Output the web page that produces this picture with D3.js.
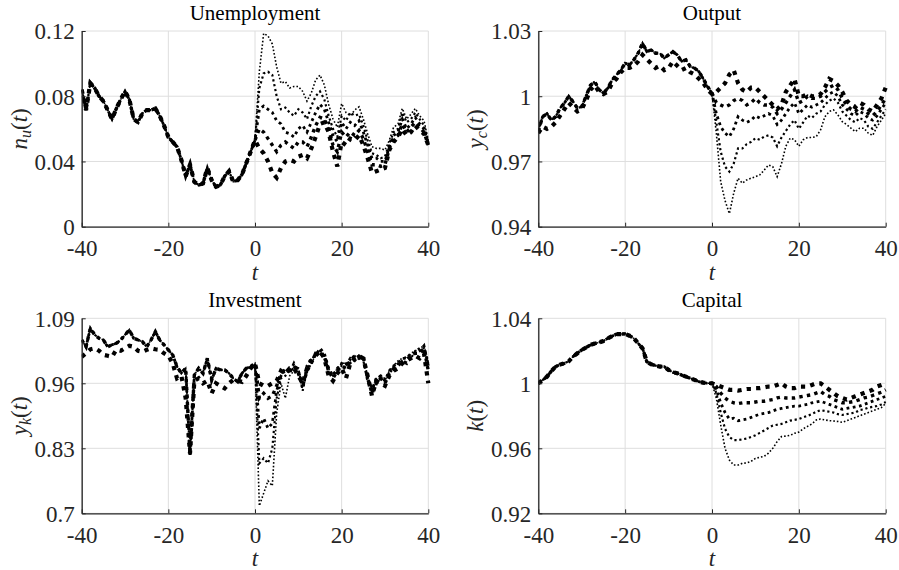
<!DOCTYPE html>
<html><head><meta charset="utf-8">
<script src="https://cdn.jsdelivr.net/npm/d3@7"></script>
<style>
body{margin:0;background:#fff;}
svg{display:block;}
</style></head>
<body><svg id="c" width="899" height="570"></svg>
<script>
// time axis
const tPre = d3.range(-40, 1);   // -40..0
const tPost = d3.range(1, 41);   // 1..40
const xTicks = [-40, -20, 0, 20, 40];
const xTickLabels = ["-40", "-20", "0", "20", "40"];

// ---------- Unemployment ----------
const uHist = [0.084,0.0715,0.088,0.085,0.080,0.077,0.0715,0.066,0.0725,0.078,0.083,0.078,0.066,0.064,0.0695,0.0715,0.0715,0.0725,0.068,0.062,0.055,0.052,0.049,0.041,0.031,0.038,0.0275,0.0255,0.0265,0.036,0.0285,0.0245,0.0255,0.031,0.034,0.0275,0.0285,0.032,0.039,0.046,0.053];
const uS1 = [0.048,0.045,0.040,0.033,0.030,0.036,0.040,0.041,0.040,0.043,0.044,0.042,0.048,0.055,0.063,0.064,0.058,0.046,0.037,0.052,0.050,0.054,0.053,0.056,0.050,0.042,0.033,0.034,0.035,0.036,0.047,0.052,0.055,0.060,0.056,0.058,0.062,0.059,0.057,0.050];
const uS2 = [0.060,0.058,0.054,0.050,0.046,0.050,0.052,0.050,0.048,0.052,0.052,0.049,0.055,0.062,0.067,0.066,0.060,0.050,0.046,0.058,0.055,0.058,0.056,0.059,0.054,0.046,0.038,0.038,0.037,0.038,0.048,0.054,0.056,0.063,0.058,0.061,0.064,0.061,0.058,0.050];
const uS3 = [0.072,0.074,0.072,0.070,0.065,0.063,0.058,0.057,0.055,0.060,0.062,0.058,0.064,0.070,0.075,0.072,0.064,0.056,0.052,0.064,0.060,0.064,0.062,0.065,0.058,0.050,0.042,0.042,0.040,0.040,0.049,0.056,0.058,0.066,0.060,0.063,0.067,0.063,0.060,0.051];
const uS4 = [0.085,0.094,0.095,0.093,0.080,0.072,0.073,0.070,0.068,0.072,0.070,0.066,0.074,0.080,0.083,0.078,0.068,0.060,0.055,0.068,0.065,0.070,0.068,0.069,0.062,0.053,0.045,0.044,0.042,0.043,0.051,0.058,0.060,0.070,0.064,0.066,0.070,0.066,0.062,0.052];
const uS5 = [0.095,0.1185,0.117,0.112,0.098,0.088,0.089,0.085,0.086,0.086,0.083,0.077,0.082,0.090,0.093,0.087,0.075,0.066,0.061,0.0755,0.070,0.068,0.0715,0.0735,0.066,0.057,0.049,0.048,0.048,0.047,0.053,0.061,0.063,0.0725,0.066,0.069,0.0725,0.068,0.065,0.053];
const uTicks = [0, 0.04, 0.08, 0.12];
const uTickLabels = ["0", "0.04", "0.08", "0.12"];

// ---------- Output ----------
const yHist = [0.984,0.9906,0.992,0.989,0.9906,0.9945,0.9968,1.000,0.9975,0.9945,0.9952,1.000,1.005,1.0067,1.003,1.0014,1.0037,1.0075,1.0098,1.012,1.0152,1.0144,1.0167,1.0198,1.0244,1.0205,1.0213,1.0198,1.0198,1.0175,1.019,1.0205,1.019,1.016,1.0167,1.0136,1.0129,1.0113,1.008,1.0044,1.0014];
const yHistAlt = [0.983,0.986,0.985,0.986,0.988,0.991,0.994,0.997,0.995,0.993,0.994,0.998,1.003,1.005,1.002,1.001,1.002,1.006,1.008,1.011,1.013,1.013,1.014,1.016,1.019,1.017,1.015,1.013,1.014,1.012,1.013,1.016,1.014,1.012,1.013,1.011,1.010,1.008,1.006,1.003,1.001];
const yS1 = [1.002,1.004,1.006,1.010,1.012,1.006,1.003,1.002,1.004,1.004,1.002,1.000,0.998,0.996,0.994,0.996,1.002,1.005,1.008,1.000,1.000,1.001,1.000,1.000,1.001,1.004,1.008,1.007,1.005,1.002,0.998,0.996,0.995,0.997,0.996,0.994,0.993,0.996,0.999,1.004];
const yS2 = [0.997,0.996,0.995,0.996,0.998,0.999,0.998,0.996,0.997,0.999,0.997,0.996,0.996,0.995,0.992,0.994,0.997,1.000,1.003,0.997,0.998,1.000,0.999,0.999,1.000,1.002,1.004,1.005,1.003,0.999,0.996,0.994,0.993,0.995,0.994,0.992,0.991,0.993,0.996,0.999];
const yS3 = [0.992,0.986,0.983,0.9814,0.985,0.9906,0.989,0.988,0.989,0.991,0.990,0.991,0.992,0.991,0.987,0.989,0.992,0.995,0.997,0.992,0.994,0.996,0.995,0.996,0.997,0.999,1.001,1.002,1.000,0.996,0.994,0.992,0.991,0.993,0.992,0.990,0.989,0.991,0.994,0.997];
const yS4 = [0.988,0.9745,0.9676,0.9653,0.969,0.976,0.976,0.978,0.979,0.9807,0.980,0.9814,0.982,0.981,0.977,0.981,0.984,0.987,0.989,0.985,0.988,0.991,0.990,0.992,0.993,0.996,0.998,0.999,0.997,0.993,0.991,0.989,0.988,0.990,0.989,0.986,0.985,0.988,0.991,0.994];
const yS5 = [0.983,0.9607,0.952,0.946,0.9554,0.9623,0.960,0.9615,0.9623,0.963,0.9638,0.966,0.9684,0.9676,0.963,0.969,0.977,0.9807,0.980,0.977,0.980,0.981,0.981,0.9814,0.9845,0.9906,0.993,0.9937,0.9914,0.9883,0.987,0.9853,0.9837,0.9853,0.9853,0.983,0.982,0.986,0.989,0.992];
const yTicks = [0.94, 0.97, 1, 1.03];
const yTickLabels = ["0.94", "0.97", "1", "1.03"];

// ---------- Investment ----------
const iHist = [1.0467,1.033,1.07,1.057,1.05,1.0467,1.033,1.037,1.04,1.0467,1.057,1.0667,1.05,1.0467,1.0433,1.033,1.0467,1.0633,1.0467,1.037,1.0267,1.0167,0.9933,0.98,0.99,0.8167,0.9767,0.99,0.98,1.01,0.9667,0.99,0.9867,0.9867,0.98,0.97,0.9633,0.98,0.99,0.9933,1.0];
const iHistAlt = [1.013,1.02,1.028,1.03,1.025,1.017,1.015,1.013,1.027,1.025,1.03,1.035,1.033,1.025,1.023,1.027,1.03,1.028,1.027,1.02,1.015,1.0,0.97,0.975,0.93,0.82,0.965,0.97,0.96,0.965,0.94,0.96,0.955,0.95,0.96,0.967,0.965,0.963,0.975,0.99,1.0];
const iS1 = [0.960,0.955,0.955,0.960,0.965,0.985,0.980,0.990,0.990,0.975,0.960,0.990,1.005,1.015,1.025,1.010,0.975,0.965,0.980,0.990,0.970,1.000,1.010,1.015,1.010,0.975,0.935,0.965,0.960,0.955,0.975,0.985,0.990,1.000,1.005,1.010,1.015,1.010,1.020,0.960];
const iS2 = [0.930,0.940,0.930,0.935,0.955,0.980,0.985,0.985,0.995,0.980,0.955,0.985,1.000,1.020,1.020,1.015,0.985,0.970,0.985,0.995,0.990,1.005,1.015,1.010,1.015,0.970,0.940,0.960,0.970,0.960,0.980,0.990,0.995,1.005,1.000,1.015,1.020,1.020,1.030,0.985];
const iS3 = [0.870,0.890,0.870,0.880,0.945,0.975,0.990,0.980,1.000,0.985,0.950,0.995,1.010,1.015,1.030,1.020,0.990,0.975,0.990,1.000,0.995,1.010,1.005,1.015,1.010,0.965,0.945,0.970,0.975,0.965,0.985,0.995,1.000,1.010,1.010,1.020,1.020,1.025,1.035,0.995];
const iS4 = [0.800,0.810,0.800,0.830,0.930,0.970,0.975,0.985,0.990,0.990,0.945,0.985,1.005,1.020,1.025,1.010,0.980,0.980,0.985,0.995,1.000,1.000,1.010,1.015,1.005,0.970,0.950,0.965,0.970,0.970,0.980,0.990,1.000,1.005,1.015,1.010,1.025,1.030,1.030,1.000];
const iS5 = [0.715,0.740,0.765,0.755,0.900,0.960,0.930,0.975,0.985,0.990,0.955,0.980,1.000,1.015,1.020,1.015,0.990,0.975,0.990,1.000,1.000,1.005,1.015,1.010,1.010,0.975,0.950,0.970,0.975,0.965,0.985,0.995,1.005,1.010,1.010,1.020,1.025,1.030,1.035,1.005];
const iTicks = [0.7, 0.83, 0.96, 1.09];
const iTickLabels = ["0.7", "0.83", "0.96", "1.09"];

// ---------- Capital ----------
const kHist = [1.0,1.002,1.0041,1.0075,1.0103,1.0115,1.0123,1.0135,1.0164,1.0185,1.0205,1.022,1.0236,1.0245,1.0252,1.026,1.0277,1.029,1.0302,1.0303,1.0304,1.0293,1.0277,1.0246,1.0215,1.0133,1.0117,1.0109,1.0103,1.0103,1.0082,1.0068,1.0062,1.0051,1.0041,1.0031,1.0021,1.001,1.0004,1.0,1.0];
const kS1 = [0.999,0.998,0.997,0.996,0.996,0.9955,0.996,0.9965,0.9965,0.997,0.997,0.9975,0.998,0.998,0.999,1.0,0.998,0.997,0.997,0.998,0.998,0.998,0.999,1.0,1.0,0.998,0.996,0.994,0.992,0.991,0.990,0.991,0.992,0.993,0.994,0.995,0.996,0.998,0.999,1.0];
const kS2 = [0.998,0.994,0.991,0.989,0.988,0.9875,0.988,0.988,0.988,0.9885,0.989,0.989,0.9895,0.990,0.991,0.9915,0.991,0.991,0.991,0.9915,0.992,0.9925,0.993,0.994,0.995,0.993,0.992,0.990,0.989,0.988,0.988,0.9885,0.989,0.990,0.991,0.9915,0.9925,0.9935,0.9945,0.996];
const kS3 = [0.996,0.988,0.982,0.978,0.9785,0.977,0.9775,0.978,0.979,0.980,0.981,0.9815,0.982,0.983,0.984,0.9845,0.985,0.9855,0.986,0.986,0.9865,0.987,0.988,0.9885,0.989,0.988,0.987,0.986,0.985,0.984,0.9845,0.985,0.9855,0.986,0.987,0.988,0.989,0.990,0.991,0.992];
const kS4 = [0.994,0.982,0.972,0.967,0.9651,0.965,0.9655,0.966,0.967,0.968,0.9695,0.971,0.9725,0.974,0.9745,0.975,0.976,0.977,0.9775,0.978,0.979,0.980,0.981,0.9825,0.9835,0.983,0.9825,0.982,0.981,0.9805,0.981,0.9815,0.982,0.9835,0.984,0.985,0.9855,0.986,0.987,0.9885];
const kS5 = [0.9908,0.9744,0.960,0.9528,0.9497,0.9497,0.9508,0.951,0.952,0.9538,0.9545,0.955,0.957,0.960,0.9641,0.9672,0.9675,0.968,0.9692,0.970,0.972,0.9735,0.975,0.9774,0.978,0.9775,0.977,0.9768,0.9765,0.976,0.977,0.978,0.979,0.980,0.981,0.982,0.983,0.984,0.985,0.9877];
const kTicks = [0.92, 0.96, 1, 1.04];
const kTickLabels = ["0.92", "0.96", "1", "1.04"];

// series styles: 1 = smallest shock (thickest) ... 5 = largest shock (thinnest)
const widths = [4.2, 3.4, 2.8, 2.2, 1.6];
const FONT = "'Liberation Serif', 'Times New Roman', serif";

const panels = [
  {title:"Unemployment", sym:"n", sub:"u", box:[81.7,31,428.3,226.7], ticks:uTicks, labels:uTickLabels,
   hist:[uHist,uHist,uHist,uHist,uHist], post:[uS1,uS2,uS3,uS4,uS5]},
  {title:"Output", sym:"y", sub:"c", box:[538.3,31,885.7,226.7], ticks:yTicks, labels:yTickLabels,
   hist:[yHistAlt,yHist,yHist,yHist,yHist], post:[yS1,yS2,yS3,yS4,yS5]},
  {title:"Investment", sym:"y", sub:"k", box:[81.7,318.3,428.3,513.3], ticks:iTicks, labels:iTickLabels,
   hist:[iHistAlt,iHist,iHist,iHist,iHist], post:[iS1,iS2,iS3,iS4,iS5]},
  {title:"Capital", sym:"k", sub:null, box:[538.3,318.3,885.7,513.3], ticks:kTicks, labels:kTickLabels,
   hist:[kHist,kHist,kHist,kHist,kHist], post:[kS1,kS2,kS3,kS4,kS5]}
];

const svg = d3.select("#c");
const axisColor = "#262626";

panels.forEach((p, pi) => {
  const [x0, y0, x1, y1] = p.box;
  const x = d3.scaleLinear().domain([-40, 40]).range([x0, x1]);
  const y = d3.scaleLinear().domain([p.ticks[0], p.ticks[p.ticks.length-1]]).range([y1, y0]);
  const g = svg.append("g");

  // grid
  g.append("g").selectAll("line").data(xTicks).join("line")
    .attr("x1", d => x(d)).attr("x2", d => x(d)).attr("y1", y0).attr("y2", y1)
    .attr("stroke", "#dedede").attr("stroke-width", 1);
  g.append("g").selectAll("line").data(p.ticks).join("line")
    .attr("y1", d => y(d)).attr("y2", d => y(d)).attr("x1", x0).attr("x2", x1)
    .attr("stroke", "#dedede").attr("stroke-width", 1);

  // clip
  const cid = "clip" + pi;
  svg.append("clipPath").attr("id", cid).append("rect")
    .attr("x", x0).attr("y", y0 - 3).attr("width", x1 - x0 + 3).attr("height", y1 - y0 + 3);

  const line = d3.line().x(d => x(d[0])).y(d => y(d[1]));
  const lg = g.append("g").attr("clip-path", `url(#${cid})`);
  for (let s = 4; s >= 0; s--) {
    const pts = tPre.map((t, i) => [t, p.hist[s][i]]).concat(tPost.map((t, i) => [t, p.post[s][i]]));
    const w = widths[s];
    lg.append("path").datum(pts).attr("d", line)
      .attr("fill", "none").attr("stroke", "#000").attr("stroke-width", w)
      .attr("stroke-dasharray", `${w},${w*1.25}`).attr("stroke-linejoin", "miter");
  }

  // axes
  const xa = d3.axisBottom(x).tickValues(xTicks).tickFormat((d, i) => xTickLabels[i]).tickSize(-4).tickSizeOuter(0).tickPadding(13);
  const ya = d3.axisLeft(y).tickValues(p.ticks).tickFormat((d, i) => p.labels[i]).tickSize(-4).tickSizeOuter(0).tickPadding(7);
  const gx = g.append("g").attr("transform", `translate(0,${y1})`).call(xa);
  const gy = g.append("g").attr("transform", `translate(${x0},0)`).call(ya);
  [gx, gy].forEach(a => {
    a.attr("font-family", FONT).attr("font-size", 23);
    a.select(".domain").attr("stroke", axisColor).attr("stroke-width", 1.3);
    a.selectAll(".tick line").attr("stroke", axisColor).attr("stroke-width", 1);
    a.selectAll("text").attr("fill", axisColor).attr("font-family", FONT).attr("font-size", 23);
  });
  gx.selectAll("text").attr("dy", "0.71em");
  gy.selectAll("text").attr("dy", "0.34em");

  // title
  g.append("text").attr("x", (x0 + x1) / 2).attr("y", y0 - 11).attr("text-anchor", "middle")
    .attr("font-family", FONT).attr("font-size", 21).attr("fill", "#000").text(p.title);

  // x label
  g.append("text").attr("x", (x0 + x1) / 2).attr("y", y1 + 53).attr("text-anchor", "middle")
    .attr("font-family", FONT).attr("font-size", 23).attr("font-style", "italic").attr("fill", axisColor).text("t");

  // y label
  const yl = g.append("text").attr("transform", `translate(${x0 - 55},${(y0 + y1) / 2}) rotate(-90)`)
    .attr("text-anchor", "middle").attr("font-family", FONT).attr("font-size", 23).attr("fill", axisColor);
  yl.append("tspan").attr("font-style", "italic").text(p.sym);
  if (p.sub) {
    yl.append("tspan").attr("font-style", "italic").attr("font-size", 16).attr("dy", 4).text(p.sub);
    yl.append("tspan").attr("dy", -4).text("(");
  } else {
    yl.append("tspan").text("(");
  }
  yl.append("tspan").attr("font-style", "italic").text("t");
  yl.append("tspan").text(")");
});
</script>
</body></html>
